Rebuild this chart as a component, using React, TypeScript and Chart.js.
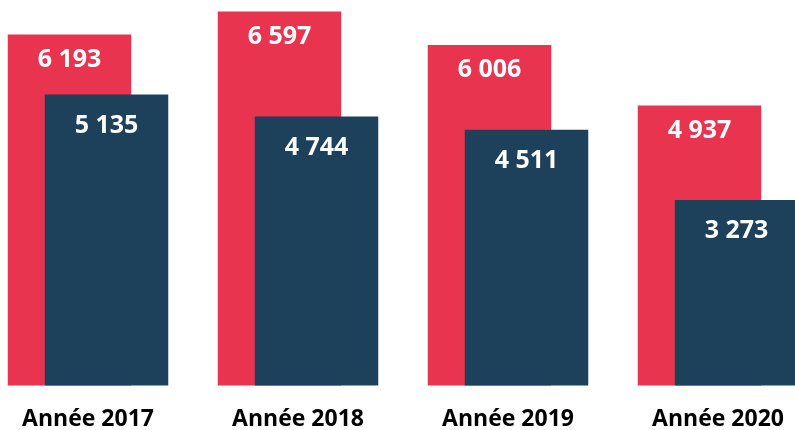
import React, { useEffect, useRef } from "react";
import { Chart, registerables } from "chart.js";

Chart.register(...registerables);

const categories = ["Année 2017", "Année 2018", "Année 2019", "Année 2020"];
const seriesRed = [6193, 6597, 6006, 4937];
const seriesBlue = [5135, 4744, 4511, 3273];

const RED = "rgb(232,52,78)";
const BLUE = "rgb(29,65,90)";
const FONT = "'Open Sans', 'DejaVu Sans', sans-serif";

const fmt = (v: number) => String(v).replace(/\B(?=(\d{3})+(?!\d))/g, " ");

// draw datasets in index order so the second (right) series sits on top
const orderPlugin = {
  id: "drawOrder",
  beforeDatasetDraw() {
    return false;
  },
  afterDatasetsDraw(chart: any) {
    for (let i = 0; i < chart.data.datasets.length; i++) {
      const meta = chart.getDatasetMeta(i);
      if (meta.visible) meta.controller.draw();
    }
  },
};

const labelPlugin = {
  id: "barLabels",
  afterDatasetsDraw(chart: any) {
    const ctx = chart.ctx;
    ctx.save();
    ctx.fillStyle = "#ffffff";
    ctx.font = `bold 25px ${FONT}`;
    ctx.textAlign = "center";
    ctx.textBaseline = "middle";
    chart.data.datasets.forEach((ds: any, di: number) => {
      const meta = chart.getDatasetMeta(di);
      const off = di === 0 ? 25 : 31;
      meta.data.forEach((el: any, i: number) => {
        ctx.fillText(fmt(ds.data[i]), el.x, el.y + off);
      });
    });
    ctx.restore();
  },
};

export default function App() {
  const ref = useRef<HTMLCanvasElement>(null);
  useEffect(() => {
    if (!ref.current) return;
    const chart = new Chart(ref.current, {
      type: "bar",
      data: {
        labels: categories,
        datasets: [
          {
            label: "A",
            data: seriesRed,
            backgroundColor: RED,
            categoryPercentage: 74 / 210,
            barPercentage: 123.5 / 37,
          },
          {
            label: "B",
            data: seriesBlue,
            backgroundColor: BLUE,
            categoryPercentage: 74 / 210,
            barPercentage: 123.5 / 37,
          },
        ],
      },
      options: {
        responsive: false,
        maintainAspectRatio: false,
        animation: false,
        layout: { padding: 0 },
        plugins: { legend: { display: false }, tooltip: { enabled: false } },
        scales: {
          x: {
            grid: { display: false, drawTicks: false },
            border: { display: false },
            ticks: {
              color: "#000000",
              font: { family: FONT, size: 23, weight: "bold" },
              padding: 20,
              maxRotation: 0,
            },
            afterFit: (axis: any) => {
              axis.height = 44.5;
            },
          },
          y: {
            display: false,
            min: 0,
            max: 6800,
          },
        },
      },
      plugins: [orderPlugin, labelPlugin],
    });
    return () => chart.destroy();
  }, []);
  return (
    <div
      style={{
        position: "fixed",
        left: 0,
        top: 0,
        width: 795,
        height: 430,
        overflow: "hidden",
        background: "#ffffff",
      }}
    >
      <canvas
        ref={ref}
        width={840}
        height={430}
        style={{ position: "absolute", left: -17, top: 0, width: 840, height: 430, display: "block" }}
      />
    </div>
  );
}
